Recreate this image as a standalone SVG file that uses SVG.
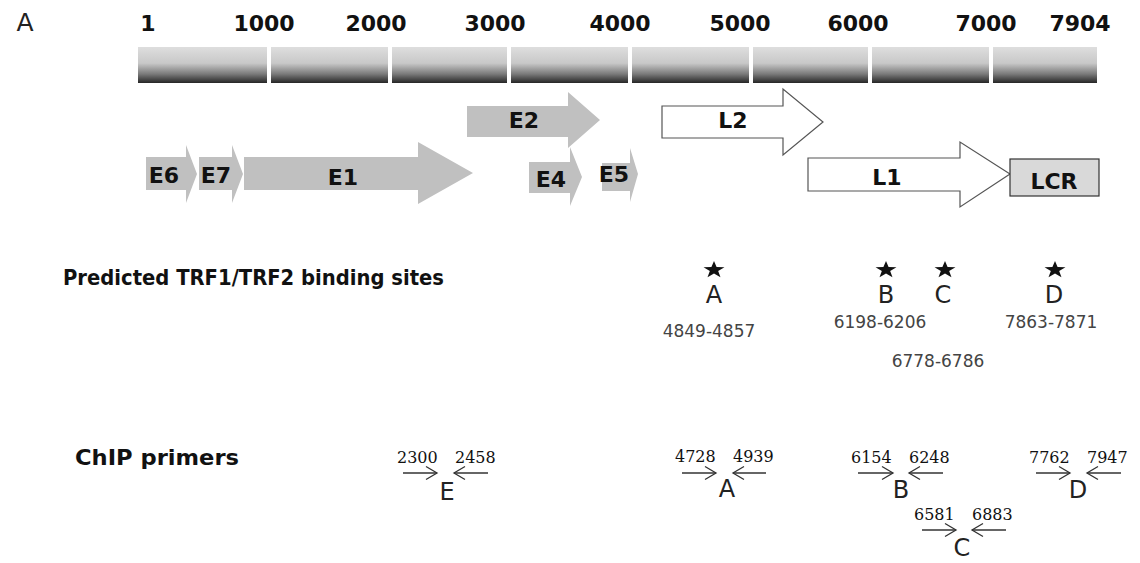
<svg xmlns="http://www.w3.org/2000/svg" width="1140" height="563" viewBox="0 0 1140 563">
<style>
.tick{font-family:"DejaVu Sans",sans-serif;font-weight:bold;font-size:22px;fill:#111;text-anchor:middle}
.glab{font-family:"DejaVu Sans",sans-serif;font-weight:bold;font-size:22px;fill:#111;text-anchor:middle}
.gene{fill:#c0c0c0;stroke:none}
.late{fill:#fff;stroke:#555;stroke-width:1.2}
.head{font-family:"DejaVu Sans",sans-serif;font-weight:bold;font-size:21px;fill:#111}
.site{font-family:"DejaVu Sans",sans-serif;font-size:24px;fill:#222;text-anchor:middle}
.panel{font-family:"DejaVu Sans",sans-serif;font-size:25px;fill:#222;text-anchor:middle}
.pos{font-family:"DejaVu Sans",sans-serif;font-size:17px;fill:#444;text-anchor:middle}
.pnum{font-family:"DejaVu Serif",serif;font-size:16px;fill:#111;text-anchor:start}
.prim{stroke:#333;stroke-width:1.3;fill:none;marker-end:url(#chev)}
.seg{fill:url(#barg)}
</style>
<defs>
<linearGradient id="barg" x1="0" y1="0" x2="0" y2="1">
<stop offset="0" stop-color="#dedede"/>
<stop offset="0.45" stop-color="#c8c8c8"/>
<stop offset="0.75" stop-color="#7a7a7a"/>
<stop offset="1" stop-color="#262626"/>
</linearGradient>
<marker id="chev" markerUnits="userSpaceOnUse" markerWidth="14" markerHeight="16" refX="12" refY="8" orient="auto">
<path d="M1,1.5 L12,8 L1,14.5" fill="none" stroke="#333" stroke-width="1.3"/>
</marker>
<polygon id="star" points="0,-10 2.35,-3.24 9.51,-3.09 3.8,1.24 5.88,8.09 0,4 -5.88,8.09 -3.8,1.24 -9.51,-3.09 -2.35,-3.24" fill="#111"/>
</defs>
<rect width="1140" height="563" fill="#fff"/>
<text class="panel" x="25" y="31">A</text>
<g id="scale">
<rect class="seg" x="138" y="47" width="129" height="36"/>
<rect class="seg" x="271" y="47" width="117" height="36"/>
<rect class="seg" x="392" y="47" width="115" height="36"/>
<rect class="seg" x="511" y="47" width="117" height="36"/>
<rect class="seg" x="632" y="47" width="117" height="36"/>
<rect class="seg" x="753" y="47" width="115" height="36"/>
<rect class="seg" x="872" y="47" width="117" height="36"/>
<rect class="seg" x="993" y="47" width="104" height="36"/>
<text class="tick" x="148" y="31">1</text>
<text class="tick" x="264" y="31">1000</text>
<text class="tick" x="376" y="31">2000</text>
<text class="tick" x="495" y="31">3000</text>
<text class="tick" x="620" y="31">4000</text>
<text class="tick" x="740" y="31">5000</text>
<text class="tick" x="858" y="31">6000</text>
<text class="tick" x="986" y="31">7000</text>
<text class="tick" x="1080" y="31">7904</text>
</g>
<g id="E6"><polygon class="gene" points="146,157 186,157 186,145 197,174 186,203 186,190 146,190"/><text class="glab" x="164" y="183">E6</text></g>
<g id="E7"><polygon class="gene" points="199,157 232,157 232,145 243,174 232,203 232,190 199,190"/><text class="glab" x="216" y="183">E7</text></g>
<g id="E1"><polygon class="gene" points="244,157 418,157 418,142 473,173 418,204 418,190 244,190"/><text class="glab" x="343" y="185">E1</text></g>
<g id="E2"><polygon class="gene" points="467,106 568,106 568,92 600,120 568,148 568,137 467,137"/><text class="glab" x="524" y="128">E2</text></g>
<g id="E4"><polygon class="gene" points="529,162 570,162 570,147 582,177 570,206 570,193 529,193"/><text class="glab" x="551" y="187">E4</text></g>
<g id="E5"><polygon class="gene" points="602,163 630,163 630,148 638,174 630,202 630,191 602,191"/><text class="glab" x="614" y="182">E5</text></g>
<g id="L2"><polygon class="late" points="662,106 783,106 783,89 823,122 783,155 783,138 662,138"/><text class="glab" x="733" y="128">L2</text></g>
<g id="L1"><polygon class="late" points="808,158 960,158 960,142 1010,174 960,207 960,191 808,191"/><text class="glab" x="887" y="185">L1</text></g>
<g id="LCR"><rect x="1010" y="159" width="89" height="37" fill="#d9d9d9" stroke="#333" stroke-width="1.2"/><text class="glab" x="1054" y="189">LCR</text></g>
<g id="sites">
<text class="head" x="63" y="285" textLength="381" lengthAdjust="spacingAndGlyphs">Predicted TRF1/TRF2 binding sites</text>
<use href="#star" transform="translate(714,270) scale(1.1,0.9)"/>
<use href="#star" transform="translate(886,270) scale(1.1,0.9)"/>
<use href="#star" transform="translate(945,270) scale(1.1,0.9)"/>
<use href="#star" transform="translate(1055,270) scale(1.1,0.9)"/>
<text class="site" x="714" y="303">A</text>
<text class="site" x="886" y="303">B</text>
<text class="site" x="943" y="303">C</text>
<text class="site" x="1054" y="303">D</text>
<text class="pos" x="709" y="337">4849-4857</text>
<text class="pos" x="880" y="328">6198-6206</text>
<text class="pos" x="1051" y="328">7863-7871</text>
<text class="pos" x="938" y="367">6778-6786</text>
</g>
<g id="primers">
<text class="head" x="75" y="465" textLength="164" lengthAdjust="spacingAndGlyphs">ChIP primers</text>
<text class="pnum" x="397" y="463">2300</text><text class="pnum" x="455" y="463">2458</text>
<text class="site" x="447" y="500">E</text>
<text class="pnum" x="675" y="462">4728</text><text class="pnum" x="733" y="462">4939</text>
<text class="site" x="727" y="497">A</text>
<text class="pnum" x="851" y="463">6154</text><text class="pnum" x="909" y="463">6248</text>
<text class="site" x="901" y="498">B</text>
<text class="pnum" x="1029" y="463">7762</text><text class="pnum" x="1087" y="463">7947</text>
<text class="site" x="1078" y="498">D</text>
<text class="pnum" x="914" y="520">6581</text><text class="pnum" x="972" y="520">6883</text>
<text class="site" x="962" y="556">C</text>
</g>
<g id="connectors">
<line class="prim" x1="403" y1="473" x2="437" y2="473"/>
<line class="prim" x1="488" y1="473" x2="454" y2="473"/>
<line class="prim" x1="682" y1="473" x2="716" y2="473"/>
<line class="prim" x1="766" y1="473" x2="733" y2="473"/>
<line class="prim" x1="858" y1="473" x2="893" y2="473"/>
<line class="prim" x1="943" y1="473" x2="909" y2="473"/>
<line class="prim" x1="1036" y1="473" x2="1070" y2="473"/>
<line class="prim" x1="1121" y1="473" x2="1087" y2="473"/>
<line class="prim" x1="922" y1="530" x2="956" y2="530"/>
<line class="prim" x1="1006" y1="530" x2="972" y2="530"/>
</g>
</svg>
